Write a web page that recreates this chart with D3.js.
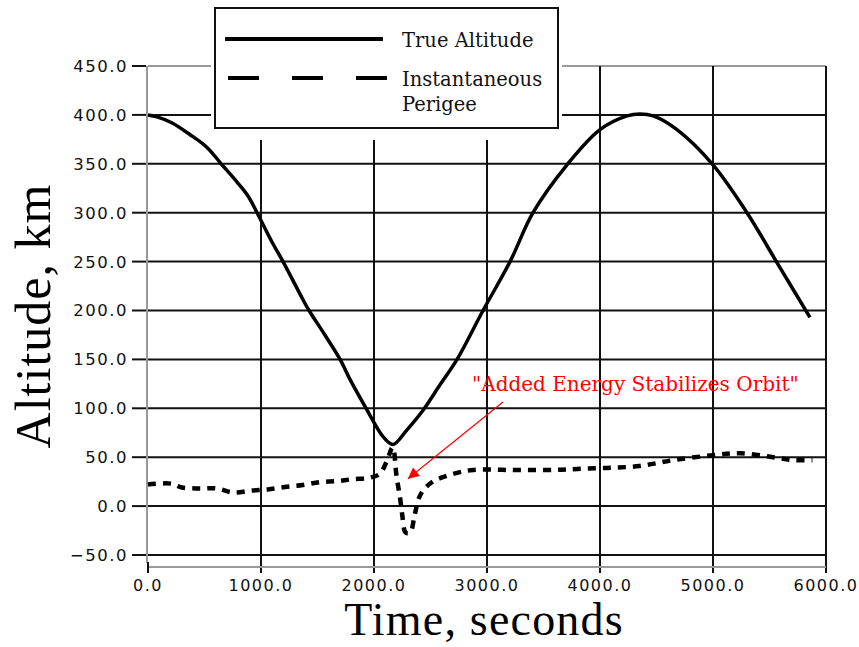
<!DOCTYPE html>
<html>
<head>
<meta charset="utf-8">
<script src="https://cdn.jsdelivr.net/npm/d3@7"></script>
<style>
  body { margin: 0; background: #fff; }
  svg { display: block; }
</style>
</head>
<body>
<div id="chart"></div>
<script>
// data: [time s, altitude km]
var trueAltitude = [
  [0, 400], [80, 398], [210, 392], [370, 380], [520, 367], [655, 349], [790, 331],
  [885, 317], [965, 300], [1102, 269], [1195, 250], [1372, 211], [1425, 200],
  [1560, 176], [1700, 150], [1790, 129], [1940, 98], [2080, 71], [2168, 63], [2292, 78],
  [2434, 98], [2584, 124], [2735, 150], [2965, 200], [3204, 250], [3407, 300],
  [3708, 349], [4000, 385], [4240, 399], [4354, 401], [4470, 399], [4681, 385],
  [5000, 349], [5301, 300], [5566, 249], [5858, 193]
];
var perigee = [
  [0, 22], [200, 23], [300, 19], [460, 18], [610, 18], [750, 14], [920, 16],
  [1060, 17], [1210, 19.5], [1370, 21.5], [1520, 24.5], [1670, 25.5], [1810, 27.5],
  [1960, 29], [2050, 33], [2110, 45], [2165, 60], [2200, 30], [2230, 9], [2250, -9],
  [2280, -27], [2320, -27], [2360, -9], [2400, 9], [2450, 18], [2520, 25], [2620, 30],
  [2735, 34], [2880, 37], [3200, 37], [3600, 37], [3800, 38], [4060, 39], [4350, 41],
  [4650, 47], [5000, 52], [5240, 54], [5530, 50], [5710, 47], [5880, 47]
];
var xTicks = [0, 1000, 2000, 3000, 4000, 5000, 6000];
var yTicks = [450, 400, 350, 300, 250, 200, 150, 100, 50, 0, -50];
var seriesNames = ["True Altitude", "Instantaneous", "Perigee"];
var noteText = "\"Added Energy Stabilizes Orbit\"";

var width = 859, height = 647;
var svg = d3.select("#chart").append("svg")
            .attr("width", width)
            .attr("height", height);

var x = d3.scaleLinear().domain([0, 6000]).range([148, 826]);
var y = d3.scaleLinear().domain([-50, 450]).range([555, 66]);

// grid, horizontal
svg.selectAll("line.hgrid").data(yTicks).enter().append("line")
   .attr("x1", x(0)).attr("x2", x(6000))
   .attr("y1", function(d){ return y(d); })
   .attr("y2", function(d){ return y(d); })
   .attr("stroke", function(d){ return d == 450 ? "#999" : "#111"; })
   .attr("stroke-width", 2);

// grid, vertical (ticks go a bit below the axis)
svg.selectAll("line.vgrid").data(xTicks.slice(1)).enter().append("line")
   .attr("x1", function(d){ return x(d); })
   .attr("x2", function(d){ return x(d); })
   .attr("y1", y(450)).attr("y2", 573)
   .attr("stroke", "#111")
   .attr("stroke-width", 2);

// axes (gray)
svg.append("line").attr("x1", 147).attr("x2", 147).attr("y1", y(450)).attr("y2", 563)
   .attr("stroke", "#999").attr("stroke-width", 2);
svg.append("line").attr("x1", x(0)).attr("x2", x(6000)).attr("y1", 567).attr("y2", 567)
   .attr("stroke", "#999").attr("stroke-width", 2);
svg.append("line").attr("x1", x(0)).attr("x2", x(0)).attr("y1", 562).attr("y2", 573)
   .attr("stroke", "#111").attr("stroke-width", 2);

// y ticks + labels
svg.selectAll("line.ytick").data(yTicks).enter().append("line")
   .attr("x1", 132).attr("x2", 146)
   .attr("y1", function(d){ return y(d); })
   .attr("y2", function(d){ return y(d); })
   .attr("stroke", "#111").attr("stroke-width", 2);
svg.selectAll("text.ylab").data(yTicks).enter().append("text")
   .attr("x", 128)
   .attr("y", function(d){ return y(d); })
   .attr("dy", "0.36em")
   .attr("text-anchor", "end")
   .style("font-family", "DejaVu Sans")
   .style("font-size", "16.5px")
   .style("letter-spacing", "1.5px")
   .attr("fill", "#111")
   .text(function(d){ return d3.format(".1f")(d); });

// x labels
svg.selectAll("text.xlab").data(xTicks).enter().append("text")
   .attr("x", function(d){ return x(d); })
   .attr("y", 591)
   .attr("text-anchor", "middle")
   .style("font-family", "DejaVu Sans")
   .style("font-size", "16px")
   .style("letter-spacing", "1.5px")
   .attr("fill", "#111")
   .text(function(d){ return d3.format(".1f")(d); });

// axis titles
svg.append("text")
   .attr("x", 484).attr("y", 635)
   .attr("text-anchor", "middle")
   .style("font-family", "Liberation Serif")
   .style("font-size", "46px")
   .style("letter-spacing", "1.2px")
   .text("Time, seconds");
svg.append("text")
   .attr("transform", "translate(50,316) rotate(-90)")
   .attr("text-anchor", "middle")
   .style("font-family", "Liberation Serif")
   .style("font-size", "50px")
   .style("letter-spacing", "1px")
   .text("Altitude, km");

// series
var line = d3.line()
             .x(function(d){ return x(d[0]); })
             .y(function(d){ return y(d[1]); })
             .curve(d3.curveCatmullRom.alpha(0.5));

svg.append("path").datum(perigee)
   .attr("d", line)
   .attr("fill", "none")
   .attr("stroke", "#000")
   .attr("stroke-width", 4.5)
   .attr("stroke-dasharray", "8,7");

svg.append("path").datum(trueAltitude)
   .attr("d", line)
   .attr("fill", "none")
   .attr("stroke", "#000")
   .attr("stroke-width", 3.5)
   .attr("stroke-linejoin", "round");

// legend
svg.append("rect").attr("x", 211).attr("y", 0).attr("width", 351).attr("height", 140)
   .attr("fill", "#fff");
svg.append("rect").attr("x", 215).attr("y", 8).attr("width", 343).attr("height", 120)
   .attr("fill", "#fff").attr("stroke", "#111").attr("stroke-width", 2);
svg.append("line").attr("x1", 225).attr("x2", 383).attr("y1", 39).attr("y2", 39)
   .attr("stroke", "#000").attr("stroke-width", 4);
svg.append("line").attr("x1", 228).attr("x2", 387).attr("y1", 78).attr("y2", 78)
   .attr("stroke", "#000").attr("stroke-width", 4)
   .attr("stroke-dasharray", "31,33");
var legendY = [47, 86, 111];
svg.selectAll("text.leg").data(seriesNames).enter().append("text")
   .attr("x", 402)
   .attr("y", function(d, i){ return legendY[i]; })
   .style("font-family", "DejaVu Serif")
   .style("font-size", "19.5px")
   .attr("fill", "#111")
   .text(function(d){ return d; });

// annotation
svg.append("defs").append("marker")
   .attr("id", "head")
   .attr("viewBox", "0 0 10 10")
   .attr("refX", 10).attr("refY", 5)
   .attr("markerWidth", 20).attr("markerHeight", 11)
   .attr("markerUnits", "userSpaceOnUse")
   .attr("orient", "auto")
   .append("path").attr("d", "M0,0L10,5L0,10z").attr("fill", "#f00");
svg.append("line")
   .attr("x1", 503).attr("y1", 402)
   .attr("x2", x(2300)).attr("y2", y(28))
   .attr("stroke", "#f00").attr("stroke-width", 1.2)
   .attr("marker-end", "url(#head)");
svg.append("text")
   .attr("x", 472).attr("y", 391)
   .style("font-family", "DejaVu Serif")
   .style("font-size", "20px")
   .attr("fill", "#f00")
   .text(noteText);
</script>
</body>
</html>
